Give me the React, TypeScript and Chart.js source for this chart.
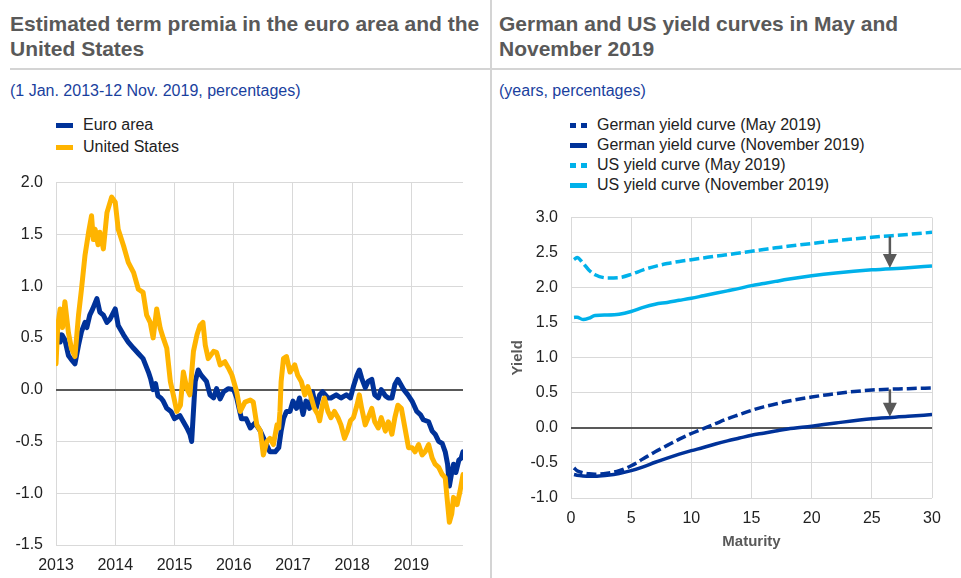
import React, { useEffect, useRef } from 'react';
import { Chart, registerables } from 'chart.js';

Chart.register(...registerables);

// ---------- Left panel data: estimated term premia (percentages) ----------
const euroDates = [
  2013.0, 2013.03, 2013.07, 2013.1, 2013.15, 2013.21, 2013.26, 2013.32, 2013.38, 2013.43,
  2013.49, 2013.52, 2013.57, 2013.62, 2013.69, 2013.74, 2013.8, 2013.86, 2013.91, 2014.0,
  2014.05, 2014.14, 2014.22, 2014.31, 2014.39, 2014.47, 2014.56, 2014.6, 2014.64, 2014.68,
  2014.72, 2014.77, 2014.81, 2014.87, 2014.94, 2015.0, 2015.09, 2015.15, 2015.21, 2015.26,
  2015.29, 2015.32, 2015.35, 2015.4, 2015.45, 2015.54, 2015.6, 2015.66, 2015.71, 2015.77,
  2015.83, 2015.91, 2016.0, 2016.05, 2016.13, 2016.21, 2016.28, 2016.36, 2016.45, 2016.53,
  2016.61, 2016.7, 2016.76, 2016.8, 2016.84, 2016.89, 2016.95, 2017.0, 2017.06, 2017.11,
  2017.17, 2017.22, 2017.28, 2017.33, 2017.39, 2017.45, 2017.5, 2017.59, 2017.64, 2017.73,
  2017.81, 2017.9, 2017.97, 2018.02, 2018.08, 2018.12, 2018.16, 2018.22, 2018.27, 2018.33,
  2018.38, 2018.44, 2018.49, 2018.56, 2018.61, 2018.67, 2018.72, 2018.77, 2018.82, 2018.87,
  2018.94, 2019.01, 2019.09, 2019.15, 2019.2, 2019.29, 2019.35, 2019.4, 2019.46, 2019.52,
  2019.57, 2019.61, 2019.64, 2019.68, 2019.71, 2019.75, 2019.8, 2019.84, 2019.87,
];
const euroValues = [
  0.4, 0.55, 0.46, 0.53, 0.48, 0.33, 0.29, 0.25, 0.43, 0.56,
  0.65, 0.6, 0.72, 0.78, 0.88, 0.75, 0.72, 0.65, 0.68, 0.78,
  0.62, 0.53, 0.46, 0.4, 0.35, 0.3, 0.17, 0.1, 0.0, 0.06,
  -0.06, -0.08, -0.11, -0.18, -0.21, -0.28, -0.25, -0.31, -0.37, -0.43,
  -0.5, -0.21, 0.08, 0.19, 0.14, 0.08, -0.05, -0.08, 0.01, -0.09,
  -0.02, 0.01, 0.0, -0.08, -0.28, -0.28, -0.37, -0.32, -0.4, -0.5,
  -0.6, -0.6, -0.56, -0.4, -0.28, -0.21, -0.21, -0.11, -0.18, -0.08,
  -0.24, -0.11, -0.18, -0.02, -0.18, -0.05, -0.02, -0.08, -0.08, -0.05,
  -0.08, -0.05, -0.08, 0.03, 0.14, 0.19, 0.11, 0.02, 0.08, 0.1,
  -0.05, -0.08, 0.0, -0.06, -0.08, -0.08, 0.05, 0.1, 0.05, 0.0,
  -0.05, -0.11, -0.21, -0.24, -0.29, -0.31, -0.4, -0.43, -0.5, -0.52,
  -0.6, -0.72, -0.93, -0.8, -0.72, -0.8, -0.68, -0.66, -0.6,
];
const usDates = [
  2013.0, 2013.03, 2013.07, 2013.11, 2013.15, 2013.21, 2013.26, 2013.32, 2013.38, 2013.43,
  2013.49, 2013.55, 2013.6, 2013.63, 2013.66, 2013.71, 2013.74, 2013.8, 2013.86, 2013.94,
  2014.0, 2014.05, 2014.14, 2014.22, 2014.31, 2014.39, 2014.47, 2014.53, 2014.59, 2014.64,
  2014.7, 2014.76, 2014.81, 2014.87, 2014.93, 2014.98, 2015.04, 2015.1, 2015.15, 2015.21,
  2015.26, 2015.32, 2015.38, 2015.43, 2015.48, 2015.52, 2015.57, 2015.66, 2015.71, 2015.77,
  2015.85, 2015.91, 2015.97, 2016.05, 2016.11, 2016.19, 2016.28, 2016.33, 2016.39, 2016.45,
  2016.5, 2016.56, 2016.61, 2016.67, 2016.73, 2016.76, 2016.78, 2016.8, 2016.84, 2016.89,
  2016.95, 2017.03, 2017.08, 2017.14, 2017.2, 2017.25, 2017.31, 2017.36, 2017.42, 2017.45,
  2017.5, 2017.53, 2017.59, 2017.64, 2017.7, 2017.76, 2017.81, 2017.87, 2017.92, 2017.97,
  2018.02, 2018.08, 2018.12, 2018.16, 2018.22, 2018.27, 2018.33, 2018.38, 2018.44, 2018.49,
  2018.56, 2018.61, 2018.67, 2018.72, 2018.77, 2018.83, 2018.89, 2018.95, 2019.01, 2019.06,
  2019.12, 2019.18, 2019.23, 2019.29, 2019.35, 2019.4, 2019.46, 2019.52, 2019.57, 2019.6,
  2019.64, 2019.68, 2019.71, 2019.77, 2019.82, 2019.87,
];
const usValues = [
  0.25, 0.62, 0.78, 0.6, 0.85, 0.55, 0.4, 0.32, 0.72, 0.97,
  1.3, 1.52, 1.68, 1.45, 1.55, 1.4, 1.52, 1.36, 1.71, 1.86,
  1.81, 1.55, 1.39, 1.23, 1.13, 0.97, 0.94, 0.72, 0.65, 0.5,
  0.78, 0.59, 0.5, 0.4, 0.08, -0.05, -0.21, -0.15, 0.17, 0.01,
  -0.05, 0.37, 0.53, 0.62, 0.65, 0.43, 0.3, 0.37, 0.36, 0.24,
  0.27, 0.21, 0.14, -0.02, -0.21, -0.12, -0.1, -0.12, -0.34, -0.4,
  -0.63, -0.5, -0.47, -0.53, -0.34, -0.37, -0.21, 0.08, 0.3, 0.32,
  0.17, 0.24, 0.14, 0.08, -0.05, 0.03, -0.08, -0.18, -0.24, -0.3,
  -0.14, -0.08, -0.21, -0.27, -0.21, -0.27, -0.34, -0.47, -0.4, -0.3,
  -0.27, -0.15, -0.05, -0.18, -0.34, -0.27, -0.18, -0.31, -0.37, -0.27,
  -0.4, -0.31, -0.43, -0.27, -0.15, -0.18, -0.37, -0.56, -0.56, -0.6,
  -0.53, -0.63, -0.6, -0.53, -0.66, -0.72, -0.75, -0.82, -0.85, -1.04,
  -1.28, -1.2, -1.04, -1.11, -0.98, -0.82,
];
const yearTicks = [2013, 2014, 2015, 2016, 2017, 2018, 2019];
const lastDate = 2019.87;

// ---------- Right panel data: yield curves (years, percentages) ----------
const maturities = [0.25, 0.5, 1, 1.5, 2, 3, 4, 5, 6, 7, 8, 9, 10, 11, 12, 13, 14, 15, 16, 17, 18, 20, 22, 25, 28, 30];
const deMay = [-0.57, -0.61, -0.64, -0.655, -0.66, -0.645, -0.61, -0.54, -0.44, -0.34, -0.25, -0.16, -0.08, -0.01, 0.06, 0.13, 0.19, 0.25, 0.3, 0.34, 0.38, 0.44, 0.49, 0.54, 0.56, 0.57];
const deNov = [-0.665, -0.675, -0.685, -0.69, -0.69, -0.675, -0.65, -0.61, -0.555, -0.49, -0.43, -0.375, -0.325, -0.28, -0.23, -0.185, -0.145, -0.105, -0.075, -0.045, -0.015, 0.025, 0.07, 0.13, 0.165, 0.19];
const usMay = [2.4, 2.43, 2.35, 2.25, 2.185, 2.14, 2.145, 2.19, 2.255, 2.305, 2.345, 2.375, 2.4, 2.425, 2.45, 2.47, 2.495, 2.52, 2.545, 2.57, 2.59, 2.63, 2.67, 2.72, 2.76, 2.79];
const usNov = [1.575, 1.58, 1.545, 1.565, 1.605, 1.61, 1.62, 1.66, 1.72, 1.765, 1.79, 1.82, 1.85, 1.885, 1.92, 1.955, 1.99, 2.03, 2.06, 2.09, 2.12, 2.17, 2.21, 2.255, 2.285, 2.31];
const arrowMaturity = 26.5;
const arrowFrom = [2.73, 0.55];
const arrowTo = [2.28, 0.16];

const FONT = '"Liberation Sans", Arial, Helvetica, sans-serif';
const GRID = '#d9d9d9';
const ZERO = '#595959';
const TICK = '#222222';
const EURO_BLUE = '#003299';
const US_YELLOW = '#ffb400';
const LIGHT_BLUE = '#00b1ea';

const gridColor = (ctx: any) => (ctx.tick && ctx.tick.value === 0 ? ZERO : GRID);
const gridWidth = (ctx: any) => (ctx.tick && ctx.tick.value === 0 ? 2 : 1);

const arrowPlugin = {
  id: 'arrows',
  afterDatasetsDraw(chart: any) {
    const { ctx, scales } = chart;
    const x = scales.x.getPixelForValue(arrowMaturity);
    ctx.save();
    ctx.strokeStyle = ZERO;
    ctx.fillStyle = ZERO;
    ctx.lineWidth = 2.5;
    for (let i = 0; i < arrowFrom.length; i++) {
      const y1 = scales.y.getPixelForValue(arrowFrom[i]);
      const y2 = scales.y.getPixelForValue(arrowTo[i]);
      const head = 14;
      ctx.beginPath();
      ctx.moveTo(x, y1);
      ctx.lineTo(x, y2 - head + 1);
      ctx.stroke();
      ctx.beginPath();
      ctx.moveTo(x - 7, y2 - head);
      ctx.lineTo(x + 7, y2 - head);
      ctx.lineTo(x, y2);
      ctx.closePath();
      ctx.fill();
    }
    ctx.restore();
  },
};

function LeftChart() {
  const ref = useRef<HTMLCanvasElement | null>(null);
  useEffect(() => {
    if (!ref.current) return;
    const chart = new Chart(ref.current, {
      type: 'line',
      data: {
        datasets: [
          {
            label: 'Euro area',
            data: euroDates.map((d, i) => ({ x: d, y: euroValues[i] })),
            borderColor: EURO_BLUE,
            backgroundColor: EURO_BLUE,
            borderWidth: 5,
            pointRadius: 0,
            tension: 0,
            borderJoinStyle: 'round',
            borderCapStyle: 'round',
            order: 1,
          },
          {
            label: 'United States',
            data: usDates.map((d, i) => ({ x: d, y: usValues[i] })),
            borderColor: US_YELLOW,
            backgroundColor: US_YELLOW,
            borderWidth: 5,
            pointRadius: 0,
            tension: 0,
            borderJoinStyle: 'round',
            borderCapStyle: 'round',
            order: 0,
          },
        ],
      },
      options: {
        animation: false,
        responsive: false,
        events: [],
        layout: { padding: { left: 0, right: 22, top: 20, bottom: 3 } },
        plugins: { legend: { display: false }, tooltip: { enabled: false } },
        scales: {
          x: {
            type: 'linear',
            min: 2013,
            max: lastDate,
            afterBuildTicks: (s: any) => {
              s.ticks = yearTicks.map((v) => ({ value: v }));
            },
            afterFit: (s: any) => {
              s.height = 30;
            },
            ticks: {
              callback: (v: any) => String(v),
              font: { family: FONT, size: 16 },
              color: TICK,
              padding: 11,
              maxRotation: 0,
              autoSkip: false,
            },
            grid: { color: GRID, drawTicks: false },
            border: { display: false },
          },
          y: {
            type: 'linear',
            min: -1.5,
            max: 2,
            afterFit: (s: any) => {
              s.width = 56;
            },
            ticks: {
              stepSize: 0.5,
              callback: (v: any) => Number(v).toFixed(1),
              font: { family: FONT, size: 16 },
              color: TICK,
              padding: 13,
            },
            grid: { color: gridColor, lineWidth: gridWidth, drawTicks: false },
            border: { display: false },
          },
        },
      },
    } as any);
    return () => chart.destroy();
  }, []);
  return <canvas ref={ref} width={485} height={418} style={{ position: 'absolute', left: 0, top: 160 }} />;
}

function RightChart() {
  const ref = useRef<HTMLCanvasElement | null>(null);
  useEffect(() => {
    if (!ref.current) return;
    const mk = (label: string, vals: number[], color: string, dashed: boolean) => ({
      label,
      data: maturities.map((m, i) => ({ x: m, y: vals[i] })),
      borderColor: color,
      backgroundColor: color,
      borderWidth: 3.5,
      borderDash: dashed ? [10, 4] : [],
      pointRadius: 0,
      cubicInterpolationMode: 'monotone',
    });
    const chart = new Chart(ref.current, {
      type: 'line',
      data: {
        datasets: [
          mk('German yield curve (May 2019)', deMay, EURO_BLUE, true),
          mk('German yield curve (November 2019)', deNov, EURO_BLUE, false),
          mk('US yield curve (May 2019)', usMay, LIGHT_BLUE, true),
          mk('US yield curve (November 2019)', usNov, LIGHT_BLUE, false),
        ],
      },
      options: {
        animation: false,
        responsive: false,
        events: [],
        layout: { padding: { left: 0, right: 29, top: 18, bottom: 24 } },
        plugins: { legend: { display: false }, tooltip: { enabled: false } },
        scales: {
          x: {
            type: 'linear',
            min: 0,
            max: 30,
            afterFit: (s: any) => {
              s.height = 56;
            },
            ticks: {
              stepSize: 5,
              font: { family: FONT, size: 16 },
              color: TICK,
              padding: 11,
              maxRotation: 0,
            },
            grid: { color: GRID, drawTicks: false },
            border: { display: false },
            title: {
              display: true,
              text: 'Maturity',
              color: '#595959',
              font: { family: FONT, size: 15, weight: 'bold' },
              padding: { top: 0, bottom: 3 },
            },
          },
          y: {
            type: 'linear',
            min: -1,
            max: 3,
            afterFit: (s: any) => {
              s.width = 79;
            },
            ticks: {
              stepSize: 0.5,
              callback: (v: any) => Number(v).toFixed(1),
              font: { family: FONT, size: 16 },
              color: TICK,
              padding: 13,
            },
            grid: { color: gridColor, lineWidth: gridWidth, drawTicks: false },
            border: { display: false },
            title: {
              display: true,
              text: 'Yield',
              color: '#595959',
              font: { family: FONT, size: 15, weight: 'bold' },
              padding: { top: 17, bottom: 0 },
            },
          },
        },
      },
      plugins: [arrowPlugin],
    } as any);
    return () => chart.destroy();
  }, []);
  return <canvas ref={ref} width={469} height={383} style={{ position: 'absolute', left: 492, top: 195 }} />;
}

type LegendItem = { label: string; color: string; dashed: boolean };

const leftLegend: LegendItem[] = [
  { label: 'Euro area', color: EURO_BLUE, dashed: false },
  { label: 'United States', color: US_YELLOW, dashed: false },
];
const rightLegend: LegendItem[] = [
  { label: 'German yield curve (May 2019)', color: EURO_BLUE, dashed: true },
  { label: 'German yield curve (November 2019)', color: EURO_BLUE, dashed: false },
  { label: 'US yield curve (May 2019)', color: LIGHT_BLUE, dashed: true },
  { label: 'US yield curve (November 2019)', color: LIGHT_BLUE, dashed: false },
];

function Legend({ items, left, top, step }: { items: LegendItem[]; left: number; top: number; step: number }) {
  return (
    <>
      {items.map((it, i) => (
        <div
          key={it.label}
          style={{
            position: 'absolute',
            left,
            top: top + i * step - 9,
            height: 18,
            display: 'flex',
            alignItems: 'center',
            whiteSpace: 'nowrap',
            fontSize: 16,
            color: '#222',
          }}
        >
          <div
            style={{
              width: 17,
              height: 5,
              marginRight: 10,
              background: it.dashed
                ? `linear-gradient(to right, ${it.color} 0 6px, transparent 6px 11px, ${it.color} 11px 17px)`
                : it.color,
            }}
          />
          <span>{it.label}</span>
        </div>
      ))}
    </>
  );
}

export default function App() {
  const titleStyle: React.CSSProperties = {
    position: 'absolute',
    top: 11,
    fontSize: 21,
    lineHeight: '25px',
    fontWeight: 'bold',
    color: '#595959',
    whiteSpace: 'nowrap',
  };
  const subStyle: React.CSSProperties = {
    position: 'absolute',
    top: 81,
    fontSize: 16,
    lineHeight: '19px',
    color: '#1a3f9e',
    whiteSpace: 'nowrap',
  };
  return (
    <div
      style={{
        position: 'fixed',
        left: 0,
        top: 0,
        width: 961,
        height: 578,
        background: '#fff',
        overflow: 'hidden',
        fontFamily: FONT,
      }}
    >
      <div style={{ ...titleStyle, left: 10 }}>
        Estimated term premia in the euro area and the
        <br />
        United States
      </div>
      <div style={{ ...titleStyle, left: 499 }}>
        German and US yield curves in May and
        <br />
        November 2019
      </div>
      <div style={{ position: 'absolute', left: 10, top: 68, width: 480, height: 2, background: '#d4d4d4' }} />
      <div style={{ position: 'absolute', left: 492, top: 68, width: 469, height: 2, background: '#d4d4d4' }} />
      <div style={{ position: 'absolute', left: 490, top: 0, width: 2, height: 578, background: '#d4d4d4' }} />
      <div style={{ ...subStyle, left: 10 }}>(1 Jan. 2013-12 Nov. 2019, percentages)</div>
      <div style={{ ...subStyle, left: 499 }}>(years, percentages)</div>
      <Legend items={leftLegend} left={56} top={125} step={22} />
      <Legend items={rightLegend} left={570} top={125} step={20} />
      <LeftChart />
      <RightChart />
    </div>
  );
}
